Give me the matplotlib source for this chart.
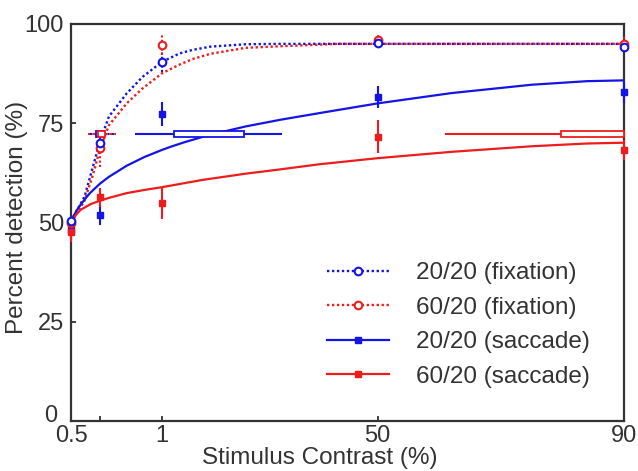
import matplotlib.pyplot as plt
import matplotlib.transforms as mtransforms
import numpy as np
from matplotlib.lines import Line2D
from matplotlib.patches import Rectangle

plt.rcParams['font.family'] = ['Liberation Sans', 'DejaVu Sans']

# stimulus contrast levels (%)
contrast = [0.5, 0.65, 1, 50, 90]

# percent detection at each contrast, with error bars
fix_2020 = [50.4, 70.1, 90.5, 95.3, 94.3]
fix_2020_err = [1.0, 2.5, 2.5, 1.0, 1.0]
fix_6020 = [50.0, 68.7, 94.7, 96.0, 95.0]
fix_6020_err = [1.2, 4.6, 2.5, 1.5, 2.0]
sac_2020 = [48.0, 51.9, 77.3, 81.7, 82.8]
sac_2020_err = [2.0, 2.5, 3.0, 2.8, 2.6]
sac_6020 = [47.5, 56.3, 55.0, 71.6, 68.3]
sac_6020_err = [2.5, 2.5, 4.0, 4.2, 2.6]

# fitted psychometric curves
fit_fix_2020_c = [0.5, 0.57, 0.61, 0.65, 0.70, 0.80, 0.89, 1, 5, 8, 12, 20, 28, 40, 50, 70, 90]
fit_fix_2020_p = [50.4, 56.5, 63.5, 70.5, 76.7, 82.5, 86.7, 90.5, 92.6, 93.5, 94.3, 94.9, 95.0, 95.0, 95.0, 95.0, 95.0]
fit_fix_6020_c = [0.5, 0.57, 0.61, 0.65, 0.70, 0.80, 0.89, 1, 5, 8, 12, 20, 28, 41, 50, 70, 90]
fit_fix_6020_p = [50.0, 55.5, 61.5, 68.5, 74.5, 80.0, 83.8, 87.6, 89.8, 91.2, 92.5, 94.0, 94.4, 95.0, 95.0, 95.0, 95.0]
fit_sac_2020_c = [0.5, 0.53, 0.55, 0.58, 0.6, 0.65, 0.7, 0.8, 0.9, 1, 3, 6, 10, 15, 20, 28, 37, 50, 62, 75, 84, 90]
fit_sac_2020_p = [50.4, 53.1, 54.5, 56.4, 57.5, 59.8, 61.5, 64.3, 66.5, 68.3, 69.1, 70.2, 71.5, 72.9,
                  74.2, 75.9, 77.6, 80.0, 82.6, 84.7, 85.6, 85.8]
fit_sac_6020_c = [0.5, 0.53, 0.55, 0.6, 0.65, 0.7, 0.8, 0.9, 1, 3, 6, 10, 20, 28, 37, 50, 62, 75, 84, 90]
fit_sac_6020_p = [50.0, 52.2, 53.2, 54.6, 55.5, 56.2, 57.4, 58.2, 58.9, 59.3, 59.9, 60.7, 62.3, 63.4,
                  64.7, 66.2, 67.8, 69.2, 69.9, 70.1]

# contrast thresholds: level, whisker range, box range
thr_level = 72.3
thr_fix_2020 = (0.60, 0.73, 0.63, 0.67)
thr_fix_6020 = (0.59, 0.74, 0.64, 0.68)
thr_sac_2020 = (0.85, 28.1, 3.7, 19.7)
thr_sac_6020 = (61.1, 90.0, 79.8, 90.0)

xticks = [0.5, 0.65, 1, 50, 90]
xticklabels = ['0.5', '', '1', '50', '90']
yticks = [0, 25, 50, 75, 100]

blue = '#1414e6'
red = '#ee1c1c'
ink = '#333333'

# hand-spaced contrast axis
scale_c = np.array([0.5, 0.65, 1, 50, 90])
scale_u = np.array([0, 29, 91, 306, 552], dtype=float)


def forward(x):
    return np.interp(x, scale_c, scale_u)


def inverse(u):
    return np.interp(u, scale_u, scale_c)


fig = plt.figure(figsize=(6.38, 4.71), dpi=100)
ax = fig.add_axes([71 / 638, 50 / 471, 553 / 638, 397 / 471])
ax.set_xscale('function', functions=(forward, inverse))
ax.set_xlim(0.5, 90)
ax.set_ylim(0, 100)

dots = (0, (1, 1.1))

ax.plot(fit_fix_2020_c, fit_fix_2020_p, color=blue, lw=1.7, ls=dots, zorder=3)
ax.plot(fit_fix_6020_c, fit_fix_6020_p, color=red, lw=1.7, ls=dots, zorder=3)
ax.plot(fit_sac_2020_c, fit_sac_2020_p, color=blue, lw=1.6, zorder=3)
ax.plot(fit_sac_6020_c, fit_sac_6020_p, color=red, lw=1.6, zorder=3)

# vertical error bars
for y, e, col, ls in [(fix_2020, fix_2020_err, blue, dots), (fix_6020, fix_6020_err, red, dots),
                      (sac_2020, sac_2020_err, blue, '-'), (sac_6020, sac_6020_err, red, '-')]:
    eb = ax.errorbar(contrast, y, yerr=e, fmt='none', ecolor=col, elinewidth=1.5, capsize=0, zorder=4)
    for lc in eb[2]:
        lc.set_linestyle(ls)
        lc.set_clip_on(False)

ax.plot(contrast, sac_2020, 's', color=blue, ms=4.5, zorder=5, clip_on=False)
ax.plot(contrast, sac_6020, 's', color=red, ms=4.5, zorder=5, clip_on=False)
ax.plot(contrast, fix_6020, 'o', mfc='white', mec=red, mew=1.5, ms=5.5, zorder=6, clip_on=False)
ax.plot(contrast, fix_2020, 'o', mfc='white', mec=blue, mew=1.5, ms=5.5, zorder=6, clip_on=False)

# threshold bars
for (w0, w1, b0, b1), col, ls in [(thr_fix_2020, blue, dots), (thr_fix_6020, red, dots),
                                  (thr_sac_2020, blue, '-'), (thr_sac_6020, red, '-')]:
    ax.plot([w0, w1], [thr_level, thr_level], color=col, lw=1.5, ls=ls, zorder=4, clip_on=False)
    ax.add_patch(Rectangle((b0, thr_level - 0.8), b1 - b0, 1.6, facecolor='white',
                           edgecolor=col, lw=1.3, zorder=4.5, clip_on=False))

ax.set_xticks(xticks)
ax.set_xticklabels(xticklabels)
ax.set_yticks(yticks)
ax.tick_params(direction='in', length=3.5, width=1.3, colors=ink, labelsize=17, pad=5)
ax.tick_params(axis='x', pad=3)
ax.tick_params(top=False, right=False)
for s in ax.spines.values():
    s.set_color(ink)
    s.set_linewidth(1.6)

# lift the "0" label clear of the x tick labels
zero = ax.get_yticklabels()[0]
zero.set_transform(zero.get_transform() + mtransforms.ScaledTranslation(-7 / 100, 8 / 100, fig.dpi_scale_trans))

ax.set_xlabel('Stimulus Contrast (%)', fontsize=17.5, color=ink)
ax.set_ylabel('Percent detection (%)', fontsize=17.5, color=ink)
ax.xaxis.set_label_coords((320 - 71) / 553, -0.065)
ax.yaxis.set_label_coords(-0.078, 0.514)

handles = [
    Line2D([], [], color=blue, lw=1.7, ls=dots, marker='o', mfc='white', mec=blue, mew=1.5, ms=5.5),
    Line2D([], [], color=red, lw=1.7, ls=dots, marker='o', mfc='white', mec=red, mew=1.5, ms=5.5),
    Line2D([], [], color=blue, lw=1.6, marker='s', ms=5),
    Line2D([], [], color=red, lw=1.6, marker='s', ms=5),
]
labels = ['20/20 (fixation)', '60/20 (fixation)', '20/20 (saccade)', '60/20 (saccade)']
leg = ax.legend(handles, labels, loc='upper left', bbox_to_anchor=(327 / 638, 1 - 262 / 471),
                bbox_transform=fig.transFigure, frameon=False, fontsize=17.5, numpoints=1,
                handlelength=2.55, handletextpad=1.1, labelspacing=0.52,
                borderpad=0, borderaxespad=0)
for t in leg.get_texts():
    t.set_color(ink)

fig.savefig('out.png', dpi=100)
